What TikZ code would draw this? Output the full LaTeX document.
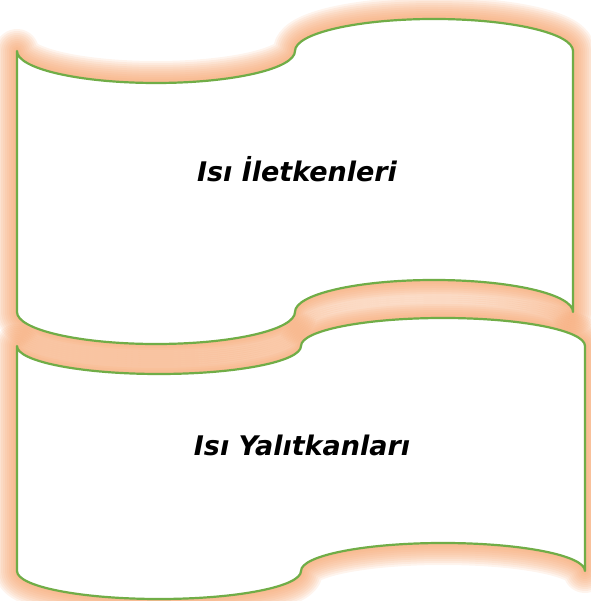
\documentclass[tikz,border=0pt]{standalone}
\usepackage{fontspec}
\setmainfont{DejaVu Sans}
\usetikzlibrary{positioning}
\definecolor{wavegreen}{HTML}{70AD47}
\definecolor{waveglow}{HTML}{F6A46E}
\tikzset{
    every node/.style={font=\fontsize{27}{32}\selectfont\bfseries\itshape},
    wave/.style={draw=wavegreen,line width=2.2pt,fill=white,line join=round},
    glow/.style={draw=waveglow,draw opacity=0.12,line join=round},
    title/.style={inner sep=0pt,text=black},
    topwave/.style={insert path={(17,289) -- (17,550)
        arc[start angle=180,end angle=360,x radius=139pt,y radius=32pt]
        arc[start angle=180,end angle=0,x radius=139pt,y radius=32pt]
        -- (573,289)
        arc[start angle=0,end angle=180,x radius=139pt,y radius=32pt]
        arc[start angle=360,end angle=180,x radius=139pt,y radius=32pt] -- cycle}},
    lowwave/.style={insert path={(17,30) -- (17,255)
        arc[start angle=180,end angle=360,x radius=142pt,y radius=28pt]
        arc[start angle=180,end angle=0,x radius=142pt,y radius=28pt]
        -- (585,30)
        arc[start angle=0,end angle=180,x radius=142pt,y radius=28pt]
        arc[start angle=360,end angle=180,x radius=142pt,y radius=28pt] -- cycle}}
}
\begin{document}
\begin{tikzpicture}[x=1pt,y=1pt]
    \useasboundingbox (0,0) rectangle (590,601);
    % soft orange glow behind both waves
    \foreach \w in {4,8,...,44} {
        \draw[glow,line width=\w pt,topwave];
        \draw[glow,line width=\w pt,lowwave];
    }
    \draw[wave,topwave];
    \draw[wave,lowwave];
    \node[title] (iletken) at (297,432) {Isı İletkenleri};
    \node[title] (yalitkan) at (302,156) {Isı Yalıtkanları};
\end{tikzpicture}
\end{document}
